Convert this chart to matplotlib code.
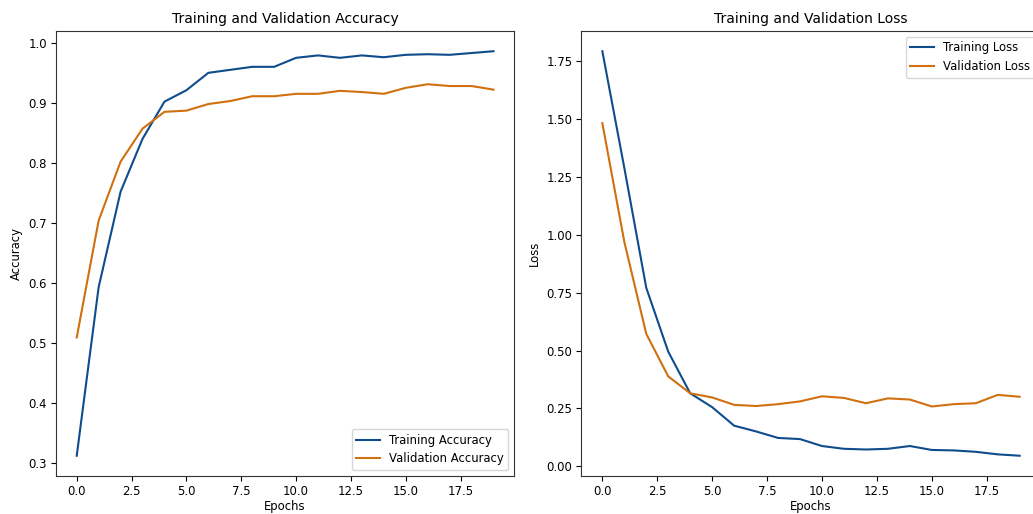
import matplotlib
matplotlib.use("Agg")
import matplotlib.pyplot as plt
import numpy as np

epochs = list(range(20))
train_acc = [0.312, 0.593, 0.752, 0.840, 0.902, 0.921, 0.950, 0.955, 0.960, 0.960,
             0.975, 0.979, 0.975, 0.979, 0.976, 0.980, 0.981, 0.980, 0.983, 0.986]
val_acc = [0.509, 0.704, 0.802, 0.857, 0.885, 0.887, 0.898, 0.903, 0.911, 0.911,
           0.915, 0.915, 0.920, 0.918, 0.915, 0.925, 0.931, 0.928, 0.928, 0.922]
train_loss = [1.794, 1.29, 0.771, 0.495, 0.315, 0.255, 0.175, 0.150, 0.122, 0.117,
              0.087, 0.075, 0.072, 0.075, 0.087, 0.070, 0.068, 0.062, 0.051, 0.045]
val_loss = [1.483, 0.97, 0.572, 0.388, 0.315, 0.297, 0.265, 0.260, 0.268, 0.280,
            0.302, 0.295, 0.272, 0.293, 0.288, 0.258, 0.268, 0.272, 0.308, 0.300]

BLUE = '#0f4c8c'
ORANGE = '#d0700e'
FS = 8.4

plt.rcParams['font.family'] = ['DejaVu Sans']
fig = plt.figure(figsize=(10.33, 5.14), dpi=100)
ax1 = fig.add_axes([0.0541, 0.074, 0.4438, 0.8657])
ax2 = fig.add_axes([0.5629, 0.074, 0.4444, 0.8657])

ax1.plot(epochs, train_acc, color=BLUE, lw=1.5, label='Training Accuracy')
ax1.plot(epochs, val_acc, color=ORANGE, lw=1.5, label='Validation Accuracy')
ax1.set_title('Training and Validation Accuracy', fontsize=10)
ax1.set_xlabel('Epochs', fontsize=FS, labelpad=1.5)
ax1.set_ylabel('Accuracy', fontsize=FS)
ax1.legend(loc='lower right', fontsize=FS)

ax2.plot(epochs, train_loss, color=BLUE, lw=1.5, label='Training Loss')
ax2.plot(epochs, val_loss, color=ORANGE, lw=1.5, label='Validation Loss')
ax2.set_title('Training and Validation Loss', fontsize=10)
ax2.set_xlabel('Epochs', fontsize=FS, labelpad=1.5)
ax2.set_ylabel('Loss', fontsize=FS)
ax2.legend(loc='upper right', fontsize=FS)

for ax in (ax1, ax2):
    ax.tick_params(labelsize=FS, pad=3)
    for s in ax.spines.values():
        s.set_color('#333333')

fig.savefig('out.png', dpi=100)
